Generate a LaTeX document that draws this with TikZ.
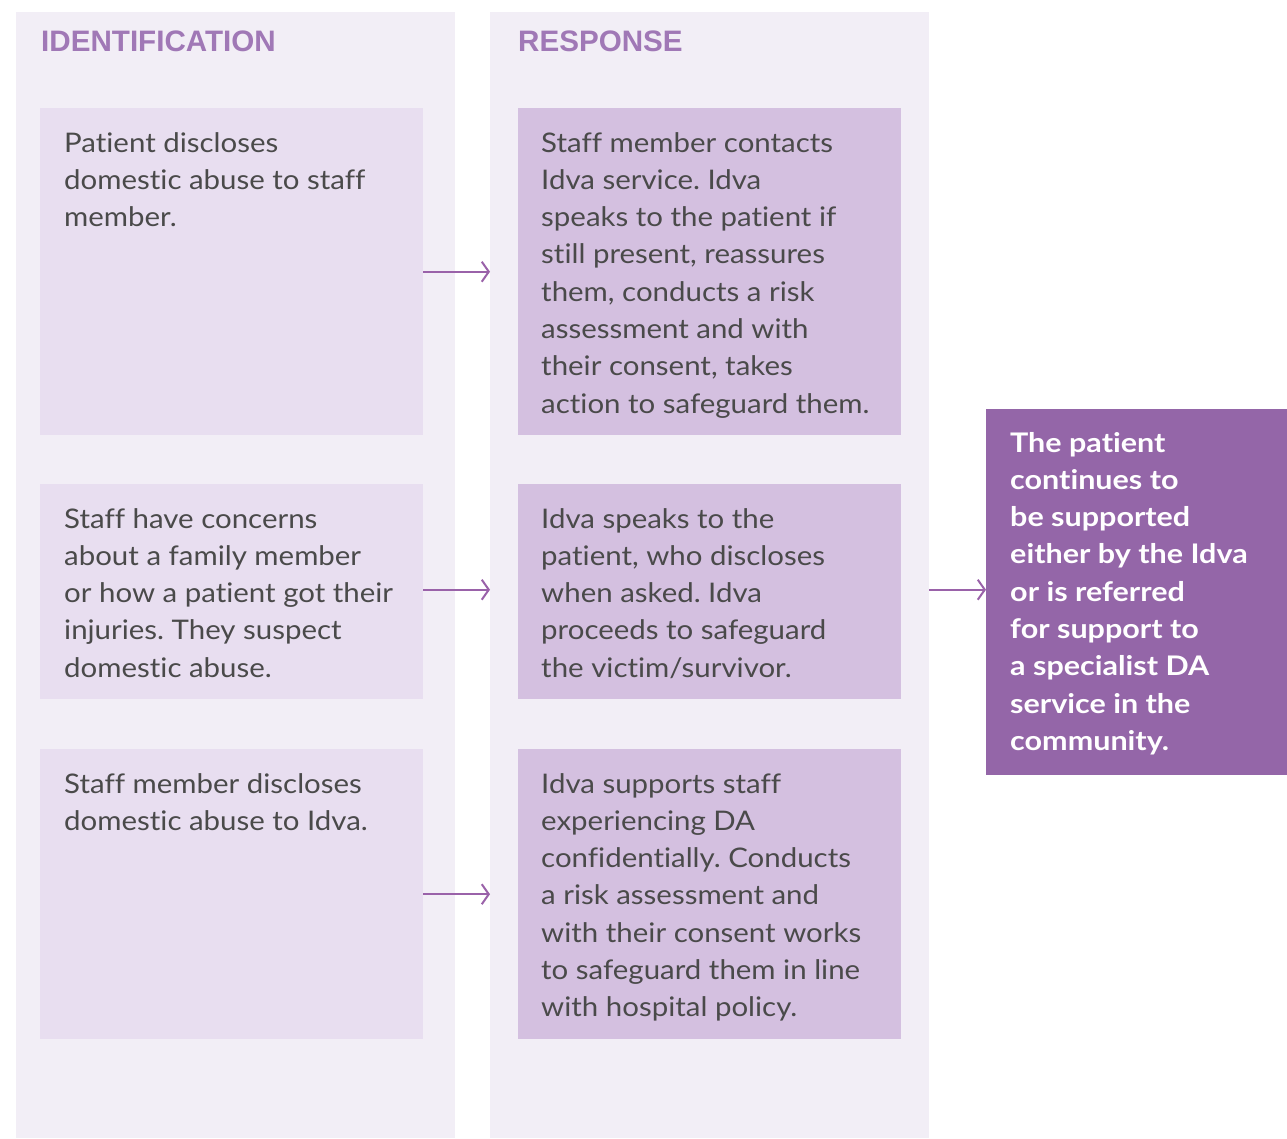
\documentclass[tikz,border=0pt]{standalone}
\usepackage{fontspec}
\setmainfont{Lato}[FakeStretch=1.09, Ligatures=NoCommon, BoldFeatures={FakeStretch=1.13}]
\newfontfamily\headfont{Liberation Sans}
\usetikzlibrary{arrows.meta}
\definecolor{colbg}{HTML}{F2EEF6}
\definecolor{lbox}{HTML}{E8DEF0}
\definecolor{rbox}{HTML}{D4C0E0}
\definecolor{dbox}{HTML}{9466A8}
\definecolor{headc}{HTML}{A078B6}
\definecolor{arrc}{HTML}{9A62A9}
\definecolor{txtc}{HTML}{4A4A4A}
\tikzset{
  colbox/.style={fill=colbg, draw=none, inner sep=0, anchor=north west},
  lstep/.style={fill=lbox, draw=none, inner sep=0, anchor=north west, minimum width=383pt},
  rstep/.style={fill=rbox, draw=none, inner sep=0, anchor=north west, minimum width=383pt},
  dstep/.style={fill=dbox, draw=none, inner sep=0, anchor=north west, minimum width=301pt, minimum height=366pt},
  head/.style={anchor=base west, inner sep=0, text=headc, font=\headfont\bfseries\fontsize{29.6}{34}\selectfont},
  body/.style={anchor=base west, inner sep=0, text=txtc, font=\fontsize{27}{37.3}\selectfont},
  bodyw/.style={anchor=base west, inner sep=0, text=white, font=\bfseries\fontsize{27}{37.3}\selectfont},
  flow/.style={draw=arrc, line width=2pt, -{Straight Barb[length=7pt,width=20pt,line width=2pt]}}
}
\newcommand{\lines}[2]{\parbox[t]{#1}{\raggedright\frenchspacing\fontsize{27}{37.3}\selectfont #2}}
\begin{document}
\begin{tikzpicture}[x=1pt,y=-1pt]
\useasboundingbox (0,0) rectangle (1287,1138);
% column backgrounds
\node[colbox, minimum width=439pt, minimum height=1126pt] (colL) at (16,12) {};
\node[colbox, minimum width=439pt, minimum height=1126pt] (colR) at (490,12) {};
% headings
\node[head] (hL) at (41,51) {IDENTIFICATION};
\node[head] (hR) at (518,51) {RESPONSE};
% left boxes
\node[lstep, minimum height=327pt] (l1) at (40,108) {};
\node[lstep, minimum height=215pt] (l2) at (40,484) {};
\node[lstep, minimum height=290pt] (l3) at (40,749) {};
% right boxes
\node[rstep, minimum height=327pt] (r1) at (518,108) {};
\node[rstep, minimum height=215pt] (r2) at (518,484) {};
\node[rstep, minimum height=290pt] (r3) at (518,749) {};
% dark box
\node[dstep] (d) at (986,409) {};
% texts
\node[body] (tl1) at (64,152) {\lines{370pt}{Patient discloses\\domestic abuse to staff\\member.}};
\node[body] (tl2) at (64,528) {\lines{370pt}{Staff have concerns\\about a family member\\or how a patient got their\\injuries. They suspect\\domestic abuse.}};
\node[body] (tl3) at (64,793) {\lines{370pt}{Staff member discloses\\domestic abuse to Idva.}};
\node[body] (tr1) at (541,152) {\lines{370pt}{Staff member contacts\\Idva service. Idva\\speaks to the patient if\\still present, reassures\\them, conducts a risk\\assessment and with\\their consent, takes\\action to safeguard them.}};
\node[body] (tr2) at (541,528) {\lines{370pt}{Idva speaks to the\\patient, who discloses\\when asked. Idva\\proceeds to safeguard\\the victim/survivor.}};
\node[body] (tr3) at (541,793) {\lines{370pt}{Idva supports staff\\experiencing DA\\confidentially. Conducts\\a risk assessment and\\with their consent works\\to safeguard them in line\\with hospital policy.}};
\node[bodyw] (td) at (1010,452) {\parbox[t]{275pt}{\raggedright\frenchspacing\bfseries\fontsize{27}{37.3}\selectfont The patient\\continues to\\be supported\\either by the Idva\\or is referred\\for support to\\a specialist DA\\service in the\\community.}};
% arrows
\draw[flow] (l1.east) -- (l1.east -| colR.west);
\draw[flow] (l2.east) ++(0,-2) coordinate (a2) -- (a2 -| colR.west);
\draw[flow] (l3.east) -- (l3.east -| colR.west);
\draw[flow] (colR.east |- a2) -- (d.west |- a2);
\end{tikzpicture}
\end{document}
